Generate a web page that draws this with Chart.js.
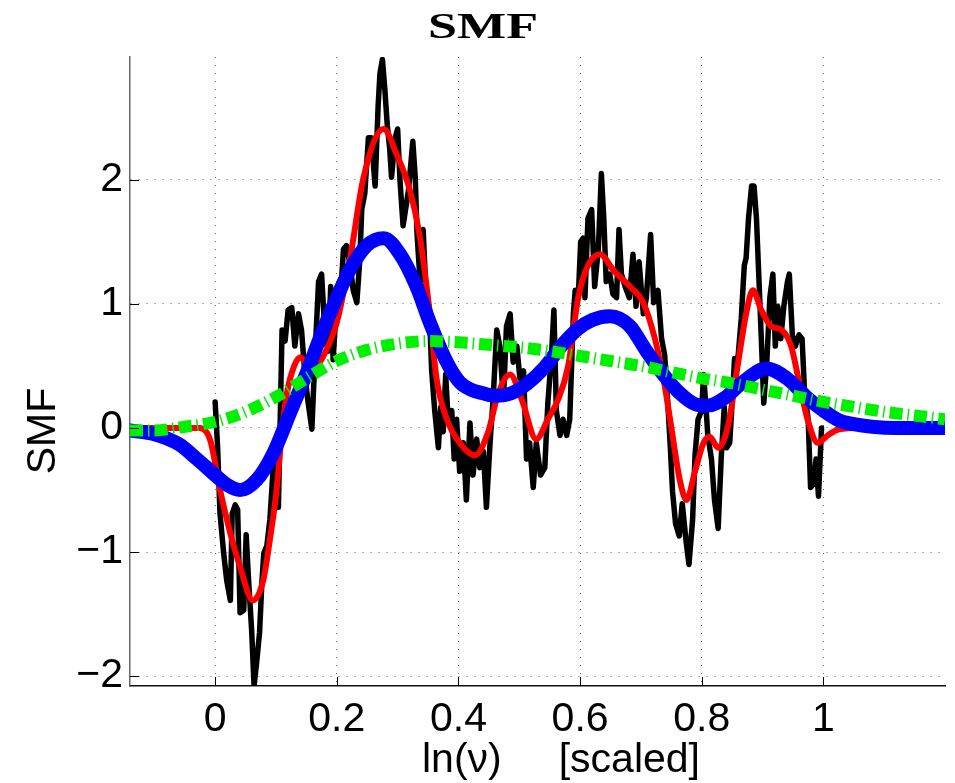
<!DOCTYPE html>
<html>
<head>
<meta charset="utf-8">
<title>SMF</title>
<script src="https://cdn.jsdelivr.net/npm/chart.js@4.4.0/dist/chart.umd.min.js"></script>
<style>
  html, body { margin: 0; padding: 0; background: #fff; }
  #wrap { width: 955px; height: 783px; }
</style>
</head>
<body>
<div id="wrap"><canvas id="chart" width="955" height="783"></canvas></div>
<script>
// Тексты
const titleText = 'SMF';
const yTitle = 'SMF';
const xTitle = 'ln(\u03bd)     [scaled]';

// Оси
const xTicks = [0, 0.2, 0.4, 0.6, 0.8, 1];
const xTickLabels = ['0', '0.2', '0.4', '0.6', '0.8', '1'];
const yTicks = [-2, -1, 0, 1, 2];
const yTickLabels = ['\u22122', '\u22121', '0', '1', '2'];

// Зашумленные данные (черная линия)
const blackX = [
  0.000, 0.004, 0.008, 0.014, 0.019, 0.025, 0.028, 0.033, 0.037, 0.041,
  0.047, 0.051, 0.055, 0.060, 0.064, 0.068, 0.073, 0.077, 0.080, 0.085,
  0.090, 0.096, 0.100, 0.104, 0.110, 0.115, 0.120, 0.126, 0.131, 0.137,
  0.142, 0.148, 0.153, 0.159, 0.164, 0.170, 0.175, 0.181, 0.186, 0.190,
  0.194, 0.200, 0.205, 0.211, 0.216, 0.222, 0.227, 0.233, 0.238, 0.241,
  0.246, 0.252, 0.257, 0.263, 0.268, 0.271, 0.275, 0.279, 0.283, 0.287,
  0.290, 0.296, 0.300, 0.304, 0.309, 0.318, 0.325, 0.329, 0.332, 0.337,
  0.342, 0.347, 0.352, 0.356, 0.361, 0.367, 0.371, 0.375, 0.379, 0.383,
  0.389, 0.393, 0.397, 0.402, 0.408, 0.413, 0.419, 0.424, 0.430, 0.435,
  0.441, 0.446, 0.452, 0.457, 0.463, 0.468, 0.474, 0.479, 0.485, 0.490,
  0.496, 0.501, 0.507, 0.512, 0.517, 0.523, 0.528, 0.535, 0.542, 0.547,
  0.553, 0.557, 0.561, 0.567, 0.572, 0.578, 0.583, 0.589, 0.592, 0.597,
  0.601, 0.605, 0.608, 0.613, 0.619, 0.624, 0.630, 0.635, 0.639, 0.643,
  0.649, 0.654, 0.660, 0.664, 0.668, 0.674, 0.681, 0.687, 0.692, 0.697,
  0.704, 0.709, 0.716, 0.721, 0.728, 0.734, 0.739, 0.743, 0.748, 0.752,
  0.757, 0.763, 0.768, 0.774, 0.779, 0.785, 0.789, 0.794, 0.800, 0.803,
  0.807, 0.810, 0.816, 0.821, 0.827, 0.832, 0.837, 0.841, 0.846, 0.850,
  0.854, 0.859, 0.865, 0.870, 0.873, 0.877, 0.882, 0.886, 0.890, 0.894,
  0.898, 0.902, 0.907, 0.912, 0.917, 0.921, 0.925, 0.930, 0.935, 0.941,
  0.944, 0.949, 0.954, 0.960, 0.965, 0.969, 0.975, 0.979, 0.984, 0.988,
  0.992, 0.997
];
const blackY = [
  0.21, -0.15, -0.69, -1.01, -1.23, -1.39, -0.69, -0.62, -0.66, -1.49,
  -1.47, -0.86, -1.23, -1.63, -2.08, -1.90, -1.65, -1.23, -1.01, -0.95,
  -0.74, -0.28, -0.30, -0.64, 0.79, 0.70, 0.95, 0.97, 0.66, 0.92,
  0.79, 0.40, 0.20, -0.01, 0.56, 1.18, 1.24, 0.72, 0.62, 1.14,
  0.55, 1.05, 0.98, 1.44, 1.47, 1.31, 1.11, 1.01, 1.37, 1.76,
  1.89, 2.34, 2.34, 1.95, 2.60, 2.86, 2.97, 2.73, 2.44, 2.25,
  2.02, 2.34, 2.41, 1.99, 1.63, 1.92, 2.31, 2.02, 1.56, 1.18,
  1.60, 1.05, 0.98, 0.46, 0.14, -0.16, 0.17, -0.03, 0.43, 0.07,
  0.14, -0.25, 0.07, -0.35, -0.12, -0.58, 0.04, -0.38, -0.09, -0.32,
  -0.19, -0.64, -0.12, 0.23, 0.79, 0.66, 0.23, 0.82, 0.92, 0.53,
  0.66, 0.40, 0.46, -0.25, -0.12, -0.48, -0.12, -0.38, -0.32, 0.20,
  0.59, 0.95, 0.14, -0.06, 0.07, -0.06, 0.07, 0.92, 1.11, 1.05,
  1.50, 1.53, 1.05, 1.69, 1.76, 1.14, 1.44, 2.05, 1.69, 1.18,
  1.24, 1.08, 1.05, 1.60, 1.24, 1.14, 1.05, 1.40, 0.98, 1.34,
  0.92, 1.05, 1.56, 1.01, 1.11, 0.72, 0.59, 0.30, -0.12, -0.51,
  -0.77, -0.87, -0.61, -0.90, -1.10, -0.74, -0.22, 0.07, 0.14, 0.43,
  0.17, -0.06, -0.25, -0.58, -0.81, -0.25, 0.17, -0.16, -0.12, 0.20,
  0.56, 0.53, 0.88, 1.31, 1.37, 1.69, 1.95, 1.95, 1.69, 1.21,
  0.72, 0.20, 0.53, 1.05, 1.24, 0.66, 0.98, 0.72, 0.98, 1.18,
  1.24, 0.75, 0.66, 0.75, 0.72, 0.30, 0.07, -0.48, -0.45, -0.25,
  -0.55, 0.00
];

// Красная кривая
const redX = [
  -0.14, -0.06, -0.025, -0.008, 0.008, 0.025, 0.041, 0.062, 0.079, 0.090,
  0.101, 0.110, 0.118, 0.130, 0.140, 0.150, 0.165, 0.180, 0.200, 0.222,
  0.244, 0.277, 0.298, 0.320, 0.337, 0.353, 0.364, 0.381, 0.402, 0.427,
  0.449, 0.465, 0.485, 0.504, 0.528, 0.547, 0.564, 0.580, 0.597, 0.612,
  0.633, 0.655, 0.682, 0.704, 0.723, 0.737, 0.748, 0.764, 0.775, 0.789,
  0.803, 0.813, 0.827, 0.843, 0.860, 0.873, 0.884, 0.898, 0.914, 0.931,
  0.947, 0.963, 0.974, 0.991, 1.007, 1.026, 1.06, 1.2
];
const redY = [
  0, 0, 0, -0.10, -0.50, -0.85, -1.12, -1.39, -1.23, -0.90,
  -0.50, -0.02, 0.28, 0.50, 0.57, 0.52, 0.50, 0.60, 0.85, 1.37,
  2.02, 2.41, 2.21, 1.92, 1.53, 0.92, 0.40, 0.07, -0.12, -0.22,
  -0.03, 0.27, 0.43, 0.23, -0.09, 0.07, 0.23, 0.49, 1.05, 1.30,
  1.40, 1.27, 1.14, 1.01, 0.72, 0.40, 0.07, -0.42, -0.58, -0.35,
  -0.12, -0.07, -0.16, 0.01, 0.53, 0.92, 1.11, 0.95, 0.82, 0.79,
  0.66, 0.30, 0.07, -0.12, -0.06, -0.01, 0, 0
];

// Синяя кривая
const blueX = [
  -0.14, -0.10, -0.06, -0.03, 0.0, 0.02, 0.041, 0.068, 0.096, 0.123,
  0.151, 0.175, 0.20, 0.222, 0.249, 0.277, 0.304, 0.331, 0.353, 0.381,
  0.402, 0.42, 0.44, 0.46, 0.487, 0.514, 0.542, 0.569, 0.597, 0.62,
  0.649, 0.682, 0.709, 0.737, 0.764, 0.79, 0.81, 0.84, 0.87, 0.906,
  0.94, 0.972, 1.0, 1.026, 1.05, 1.08, 1.12, 1.2
];
const blueY = [
  -0.02, -0.05, -0.13, -0.25, -0.38, -0.46, -0.50, -0.42, -0.20, 0.12,
  0.45, 0.76, 1.05, 1.28, 1.47, 1.53, 1.40, 1.14, 0.85, 0.53,
  0.37, 0.31, 0.28, 0.26, 0.28, 0.36, 0.49, 0.66, 0.80, 0.87,
  0.90, 0.82, 0.62, 0.43, 0.28, 0.19, 0.18, 0.25, 0.38, 0.48,
  0.40, 0.25, 0.14, 0.06, 0.03, 0.01, 0.0, 0.0
];

// Зеленая штрих-пунктирная кривая
const greenX = [
  -0.14, -0.10, -0.05, 0.0, 0.05, 0.10, 0.15, 0.20, 0.25, 0.30,
  0.35, 0.40, 0.45, 0.50, 0.55, 0.60, 0.65, 0.70, 0.75, 0.80,
  0.85, 0.90, 0.95, 1.00, 1.05, 1.10, 1.15, 1.20
];
const greenY = [
  -0.02, -0.02, 0.01, 0.05, 0.13, 0.25, 0.40, 0.54, 0.63, 0.68,
  0.70, 0.69, 0.67, 0.65, 0.62, 0.58, 0.54, 0.50, 0.45, 0.40,
  0.36, 0.31, 0.26, 0.21, 0.17, 0.13, 0.10, 0.07
];

const FONT = '"Liberation Sans", Arial, Helvetica, sans-serif';

function toPoints(xs, ys) {
  return xs.map((x, i) => ({ x: x, y: ys[i] }));
}

// Внутренние засечки и подписи
const decorPlugin = {
  id: 'decor',
  afterDraw(chart) {
    const { ctx, chartArea, scales } = chart;
    ctx.save();
    ctx.strokeStyle = '#000';
    ctx.lineWidth = 1;
    xTicks.forEach(v => {
      const px = Math.round(scales.x.getPixelForValue(v)) + 0.5;
      ctx.beginPath();
      ctx.moveTo(px, chartArea.bottom);
      ctx.lineTo(px, chartArea.bottom - 9);
      ctx.stroke();
    });
    yTicks.forEach(v => {
      const py = Math.round(scales.y.getPixelForValue(v)) + 0.5;
      ctx.beginPath();
      ctx.moveTo(chartArea.left, py);
      ctx.lineTo(chartArea.left + 9, py);
      ctx.stroke();
    });

    ctx.fillStyle = '#000';
    ctx.textAlign = 'center';
    ctx.textBaseline = 'alphabetic';

    // заголовок
    ctx.font = 'bold 36px "Liberation Serif", "DejaVu Serif", serif';
    const w = ctx.measureText(titleText).width;
    ctx.save();
    ctx.translate(483, 38);
    ctx.scale(110 / w, 1);
    ctx.fillText(titleText, 0, 0);
    ctx.restore();

    // подпись оси Y
    ctx.font = '41px ' + FONT;
    ctx.save();
    ctx.translate(55, 431);
    ctx.rotate(-Math.PI / 2);
    ctx.fillText(yTitle, 0, 0);
    ctx.restore();

    // подпись оси X
    ctx.fillText(xTitle, 561, 772);
    ctx.restore();
  }
};

const ctx = document.getElementById('chart').getContext('2d');
new Chart(ctx, {
  type: 'scatter',
  data: {
    datasets: [
      {
        label: 'data',
        data: toPoints(blackX, blackY),
        showLine: true,
        borderColor: '#000000',
        borderWidth: 5.5,
        pointRadius: 0,
        tension: 0,
        borderJoinStyle: 'round',
        borderCapStyle: 'round',
        order: 4
      },
      {
        label: 'fit',
        data: toPoints(redX, redY),
        showLine: true,
        borderColor: '#ff0000',
        borderWidth: 6,
        pointRadius: 0,
        cubicInterpolationMode: 'monotone',
        borderJoinStyle: 'round',
        borderCapStyle: 'round',
        order: 3
      },
      {
        label: 'smooth',
        data: toPoints(blueX, blueY),
        showLine: true,
        borderColor: '#0000ff',
        borderWidth: 14,
        pointRadius: 0,
        cubicInterpolationMode: 'monotone',
        borderJoinStyle: 'round',
        borderCapStyle: 'round',
        order: 2
      },
      {
        label: 'broad',
        data: toPoints(greenX, greenY),
        showLine: true,
        borderColor: '#00f000',
        borderWidth: 12,
        borderDash: [13, 5, 1.5, 5],
        borderCapStyle: 'butt',
        pointRadius: 0,
        cubicInterpolationMode: 'monotone',
        order: 1
      }
    ]
  },
  options: {
    responsive: false,
    animation: false,
    devicePixelRatio: 1,
    layout: { padding: { top: 57, right: 10, bottom: 0, left: 0 } },
    plugins: {
      legend: { display: false },
      tooltip: { enabled: false },
      title: { display: false }
    },
    scales: {
      x: {
        type: 'linear',
        min: -0.14,
        max: 1.2,
        afterBuildTicks: axis => { axis.ticks = xTicks.map(v => ({ value: v })); },
        afterFit: axis => { axis.height = 97; },
        ticks: {
          callback: (v, i) => xTickLabels[i],
          font: { family: FONT, size: 41 },
          color: '#000',
          padding: 9,
          maxRotation: 0,
          autoSkip: false
        },
        grid: { color: '#666', lineWidth: 1, drawTicks: false },
        border: { display: true, color: '#111', width: 1.5, dash: [1, 7] }
      },
      y: {
        type: 'linear',
        min: -2.08,
        max: 2.99,
        afterBuildTicks: axis => { axis.ticks = yTicks.map(v => ({ value: v })); },
        afterFit: axis => { axis.width = 130; },
        ticks: {
          callback: (v, i) => yTickLabels[i],
          font: { family: FONT, size: 41 },
          color: '#000',
          padding: 7,
          autoSkip: false
        },
        grid: { color: '#666', lineWidth: 1, drawTicks: false },
        border: { display: true, color: '#666', width: 1.5, dash: [1, 7] }
      }
    }
  },
  plugins: [decorPlugin]
});
</script>
</body>
</html>
